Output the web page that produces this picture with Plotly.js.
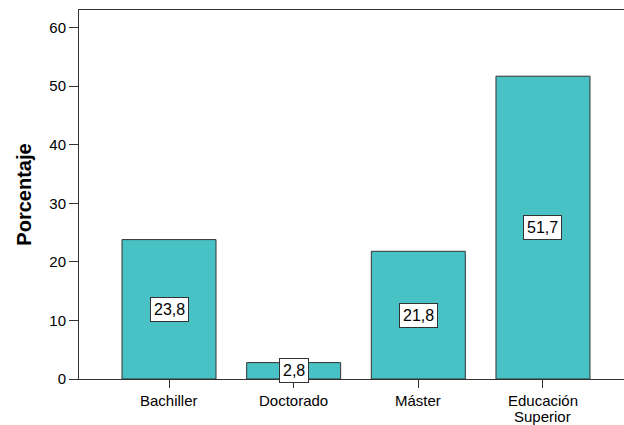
<!DOCTYPE html>
<html>
<head>
<meta charset="utf-8">
<script src="https://cdn.plot.ly/plotly-3.0.1.min.js"></script>
<style>html,body{margin:0;padding:0;background:#fff;}#chart{width:624px;height:425px;}</style>
</head>
<body>
<div id="chart"></div>
<script>
const categories = ["Bachiller", "Doctorado", "Máster", "Educación<br>Superior"];
const values = [23.8, 2.8, 21.8, 51.7];
const valueLabels = ["23,8", "2,8", "21,8", "51,7"];
const yTicks = [0, 10, 20, 30, 40, 50, 60];

const xIdx = categories.map((c, i) => i);
const fontFam = "Arial, 'Liberation Sans', sans-serif";

const trace = {
  type: "bar",
  x: xIdx,
  y: values,
  width: 0.754,
  marker: {color: "#48c2c5", line: {color: "#333333", width: 1}},
  hoverinfo: "none"
};

const annotations = values.map((v, i) => ({
  x: i, y: v / 2, xref: "x", yref: "y",
  text: valueLabels[i], showarrow: false,
  font: {family: fontFam, size: 16, color: "#000"},
  bgcolor: "#ffffff", bordercolor: "#333333", borderwidth: 1, borderpad: 3,
  xanchor: "center", yanchor: "middle"
}));

// category tick labels, drawn line by line for tighter line spacing
categories.forEach((c, i) => {
  c.split("<br>").forEach((line, k) => {
    annotations.push({
      x: i, y: 0, xref: "x", yref: "paper",
      text: line, showarrow: false,
      font: {family: fontFam, size: 15, color: "#000"},
      xanchor: "center", yanchor: "top", yshift: -11 - 16 * k
    });
  });
});

const layout = {
  width: 624, height: 425,
  margin: {l: 79, r: 0, t: 10, b: 46},
  paper_bgcolor: "#ffffff", plot_bgcolor: "#ffffff",
  showlegend: false,
  font: {family: fontFam, size: 15, color: "#000"},
  xaxis: {
    range: [-0.722, 3.65],
    tickmode: "array", tickvals: xIdx, showticklabels: false,
    showgrid: false, zeroline: false,
    showline: true, linecolor: "#333333", linewidth: 1, mirror: true,
    ticks: "outside", ticklen: 8, tickcolor: "#333333",
    fixedrange: true
  },
  yaxis: {
    range: [0, 63],
    tickmode: "array", tickvals: yTicks,
    showgrid: false, zeroline: false,
    showline: true, linecolor: "#333333", linewidth: 1,
    ticks: "outside", ticklen: 9, tickcolor: "#333333",
    tickfont: {family: fontFam, size: 15, color: "#000"},
    title: {text: "<b>Porcentaje</b>", font: {family: fontFam, size: 20, color: "#000"}, standoff: 12},
    fixedrange: true
  },
  annotations: annotations
};

Plotly.newPlot("chart", [trace], layout, {displayModeBar: false, staticPlot: true});
</script>
</body>
</html>
